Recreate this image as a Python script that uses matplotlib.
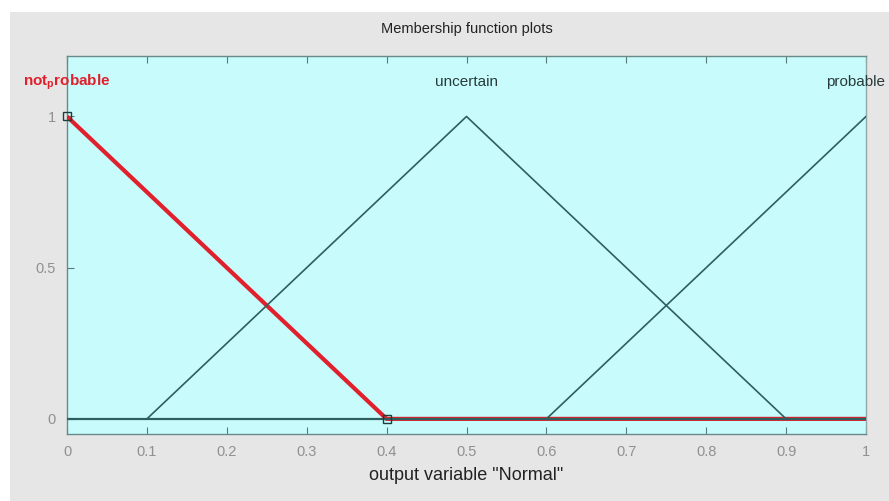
import numpy as np
import matplotlib
matplotlib.use("Agg")
import matplotlib.pyplot as plt
from matplotlib.patches import Rectangle

# Triangular membership functions of output variable "Normal" on [0, 1]
mf_names = ["not_probable", "uncertain", "probable"]
mf_params = [[-0.4, 0.0, 0.4], [0.1, 0.5, 0.9], [0.6, 1.0, 1.4]]
mf_labels = ["not$_\\mathregular{p}$robable", "uncertain", "probable"]
selected = 0

x_ticks = [0, 0.1, 0.2, 0.3, 0.4, 0.5, 0.6, 0.7, 0.8, 0.9, 1]
x_ticklabels = ["0", "0.1", "0.2", "0.3", "0.4", "0.5", "0.6", "0.7", "0.8", "0.9", "1"]
y_ticks = [0, 0.5, 1]
y_ticklabels = ["0", "0.5", "1"]


def trimf(x, a, b, c):
    left = (x - a) / (b - a)
    right = (c - x) / (c - b)
    return np.clip(np.minimum(left, right), 0, 1)


plt.rcParams["font.family"] = ["Liberation Sans", "DejaVu Sans"]

fig = plt.figure(figsize=(8.89, 5.01), dpi=100)
fig.patch.set_facecolor("white")
fig.add_artist(Rectangle((10 / 889, 0), 1, (501 - 12) / 501,
                         transform=fig.transFigure, facecolor="#e6e6e6",
                         edgecolor="none", zorder=0))

ax = fig.add_axes([67 / 889, (501 - 434) / 501, 799 / 889, 378 / 501])
ax.set_facecolor("#c8fcfc")
ax.set_xlim(0, 1)
ax.set_ylim(-0.05, 1.2)

line_col = "#2e5e5e"
red = "#e0202c"


def mf_curve(p):
    xs = np.array(sorted(set([0.0, 1.0] + [v for v in p if 0 <= v <= 1])))
    return xs, trimf(xs, *p)


# selected function underneath, drawn thick in red
xs, ys = mf_curve(mf_params[selected])
ax.plot(xs, ys, color=red, lw=3.0, zorder=3, solid_capstyle="butt")
for i, p in enumerate(mf_params):
    if i != selected:
        xs, ys = mf_curve(p)
        ax.plot(xs, ys, color=line_col, lw=1.2, zorder=4)
ax.plot([0, 1], [0, 0], color=line_col, lw=1.6, zorder=4)

# marks on the selected function's breakpoints
sel = mf_params[selected]
px = [v for v in sel if 0 <= v <= 1]
py = trimf(np.array(px), *sel)
ax.plot(px, py, ls="none", marker="s", ms=6, mfc="none", mec="#1e3e3e",
        mew=1.0, zorder=5, clip_on=False)

for i, (lab, p) in enumerate(zip(mf_labels, mf_params)):
    if i == selected:
        ax.text(p[1], 1.115, lab, ha="center", va="center", color=red,
                fontsize=11, fontweight="bold", clip_on=False, zorder=6)
    elif p[1] >= 1:
        # keep the right-hand label inside the figure
        ax.annotate(lab, xy=(p[1], 1.115), xytext=(14, 0),
                    textcoords="offset points", ha="right", va="center",
                    color="#2a3a3a", fontsize=11, annotation_clip=False,
                    zorder=6)
    else:
        ax.text(p[1], 1.115, lab, ha="center", va="center", color="#2a3a3a",
                fontsize=11, clip_on=False, zorder=6)

ax.set_xticks(x_ticks)
ax.set_xticklabels(x_ticklabels)
ax.set_yticks(y_ticks)
ax.set_yticklabels(y_ticklabels)
ax.tick_params(direction="in", length=5, color="#5a7a7a", labelcolor="#909090",
               labelsize=10.5, top=True, right=False, pad=8)
for s in ax.spines.values():
    s.set_color("#6a8a8a")
    s.set_linewidth(1.0)
ax.spines["right"].set_color("#90a8a8")

ax.set_xlabel('output variable "Normal"', fontsize=13, color="#222222", labelpad=6)
fig.text((67 + 866) / 2 / 889, 1 - 29 / 501, "Membership function plots",
         ha="center", va="center", fontsize=10.5, color="#222222")

fig.savefig("out.png", dpi=100)
